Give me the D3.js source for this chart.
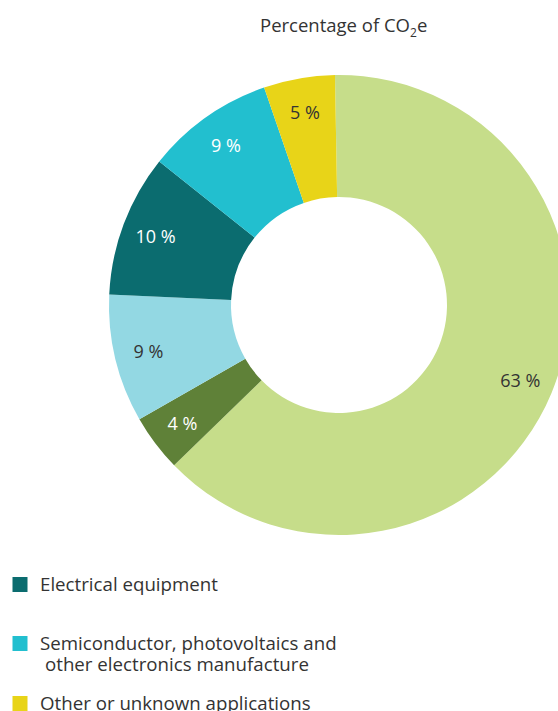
<!DOCTYPE html>
<html>
<head>
<meta charset="utf-8">
<script src="https://cdn.jsdelivr.net/npm/d3@7"></script>
<style>
  html, body { margin: 0; padding: 0; background: #ffffff; }
  svg { display: block; font-family: "Open Sans", "Noto Sans", sans-serif; }
</style>
</head>
<body>
<svg id="chart" width="558" height="711"></svg>
<script>
// Slice shares (percent of CO2e), clockwise from 12 o'clock
const sliceValues = [63, 4, 9, 10, 9, 5];
const sliceColors = ["#c6dd8a", "#5f8138", "#93d8e3", "#0b6c6f", "#22bfcf", "#e8d418"];
const labelColors = ["#333333", "#ffffff", "#333333", "#ffffff", "#ffffff", "#333333"];

// Legend entries
const legendLabels = [
  ["Electrical equipment"],
  ["Semiconductor, photovoltaics and", "other electronics manufacture"],
  ["Other or unknown applications"]
];
const legendColors = ["#0b6c6f", "#22bfcf", "#e8d418"];

const svg = d3.select("#chart");
const cx = 339, cy = 305, outerR = 230, innerR = 108, labelR = 196;
const offset = -Math.PI / 180;

// Title with subscript
const title = svg.append("text")
  .attr("x", 260).attr("y", 32)
  .attr("fill", "#333333")
  .style("font-size", "18.5px");
title.append("tspan").text("Percentage of CO");
title.append("tspan").text("2").attr("dy", 5).style("font-size", "12px");
title.append("tspan").text("e").attr("dy", -5);

const pie = d3.pie().sort(null)
  .startAngle(offset).endAngle(2 * Math.PI + offset);
const arcs = pie(sliceValues);

const arc = d3.arc().innerRadius(innerR).outerRadius(outerR);
const labelArc = d3.arc().innerRadius(labelR).outerRadius(labelR);

const g = svg.append("g").attr("transform", `translate(${cx},${cy})`);

g.selectAll("path.slice")
  .data(arcs)
  .join("path")
  .attr("class", "slice")
  .attr("d", arc)
  .attr("fill", (d, i) => sliceColors[i]);

g.selectAll("text.val")
  .data(arcs)
  .join("text")
  .attr("class", "val")
  .attr("transform", d => `translate(${labelArc.centroid(d)})`)
  .attr("text-anchor", "middle")
  .attr("dominant-baseline", "central")
  .attr("fill", (d, i) => labelColors[i])
  .style("font-size", "18px")
  .text(d => `${d.data} %`);

// Legend: one text element per line; continuation lines sit slightly indented
const legendY = [577, 636, 696];
const legend = svg.append("g");
legendLabels.forEach((lines, i) => {
  legend.append("rect")
    .attr("x", 12.5).attr("y", legendY[i])
    .attr("width", 15).attr("height", 15)
    .attr("fill", legendColors[i]);
  lines.forEach((line, j) => {
    legend.append("text")
      .attr("x", j === 0 ? 40 : 45)
      .attr("y", legendY[i] + 13.5 + j * 21.5)
      .attr("fill", "#333333")
      .style("font-size", "18.7px")
      .text(line);
  });
});
</script>
</body>
</html>
